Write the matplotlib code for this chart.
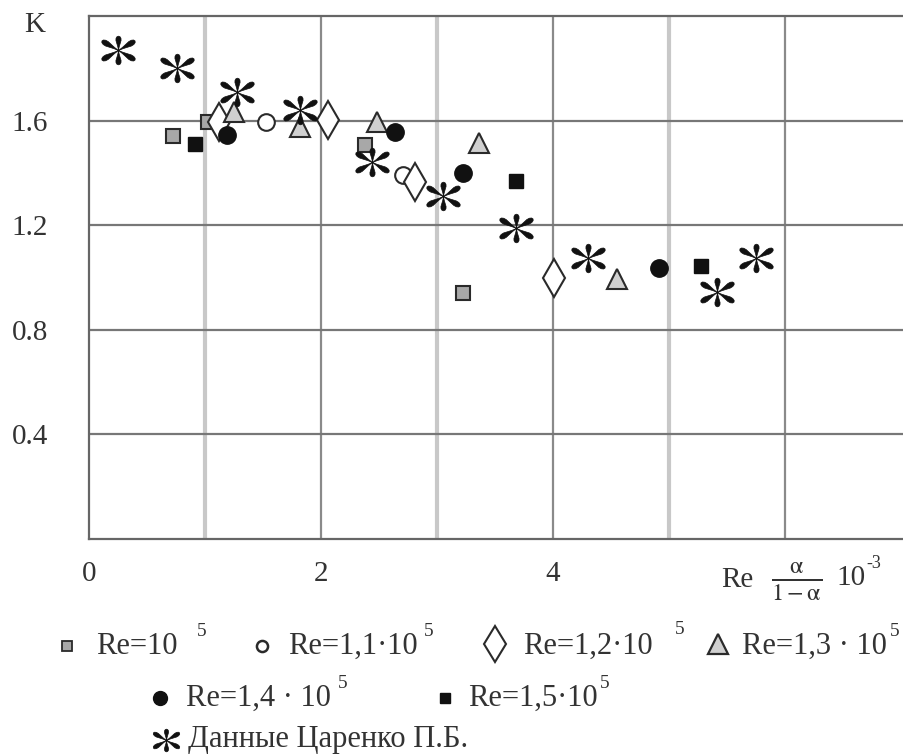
import matplotlib
matplotlib.use("Agg")
import matplotlib.pyplot as plt
import numpy as np
from matplotlib.path import Path

plt.rcParams['font.family'] = ['Liberation Serif', 'DejaVu Serif']
plt.rcParams['mathtext.fontset'] = 'stix'

# ---- data (x = Re*alpha/(1-alpha)*1e-3, y = K) ----
re10_x = [0.72, 1.03, 2.38, 3.22]
re10_y = [1.54, 1.595, 1.505, 0.94]
re11_x = [1.53, 2.71]
re11_y = [1.595, 1.393]
re12_x = [1.12, 2.06, 2.81, 4.01]
re12_y = [1.595, 1.603, 1.366, 1.00]
re13_x = [1.25, 1.82, 2.48, 3.36, 4.55]
re13_y = [1.634, 1.577, 1.596, 1.515, 0.995]
re14_x = [1.19, 2.64, 3.22, 4.91]
re14_y = [1.546, 1.557, 1.40, 1.037]
re15_x = [0.91, 3.68, 5.28]
re15_y = [1.51, 1.37, 1.045]
tsar_x = [0.25, 0.76, 1.28, 1.82, 2.44, 3.05, 3.68, 4.30, 5.41, 5.75]
tsar_y = [1.87, 1.80, 1.71, 1.64, 1.44, 1.31, 1.19, 1.075, 0.945, 1.075]

ytick_vals = [0.4, 0.8, 1.2, 1.6]
ytick_labels = ["0.4", "0.8", "1.2", "1.6"]
xtick_vals = [0, 2, 4]
xtick_labels = ["0", "2", "4"]


def asterisk_marker():
    # six teardrop petals (Times-like asterisk)
    half = [(0.0, 0.0), (0.035, 0.25), (0.09, 0.5), (0.135, 0.7), (0.13, 0.85),
            (0.08, 0.96), (0.0, 1.0)]
    petal = half + [(-x, y) for (x, y) in reversed(half[:-1])]
    petal = np.array(petal)
    verts, codes = [], []
    for ang, length in [(0, 0.75), (180, 0.75), (60, 1.0), (120, 1.0),
                        (240, 1.0), (300, 1.0)]:
        a = np.deg2rad(ang)
        R = np.array([[np.cos(a), -np.sin(a)], [np.sin(a), np.cos(a)]])
        p = (petal * [1, length]) @ R.T
        verts.extend(p.tolist())
        verts.append(p[0].tolist())
        codes.extend([Path.MOVETO] + [Path.LINETO] * (len(p) - 1) + [Path.CLOSEPOLY])
    return Path(verts, codes)


AST = asterisk_marker()

W, H = 904, 756
fig = plt.figure(figsize=(W / 100, H / 100), dpi=100)
L, T, B = 89, 16, 539
ax = fig.add_axes([L / W, 1 - B / H, (W - L) / W, (B - T) / H])
ax.set_xlim(0, (W - L) / 116.0)
ax.set_ylim(0, 2.0)

# grid
for xv in [1, 3, 5]:
    ax.axvline(xv, color='#c8c8c8', lw=3.0, zorder=1)
for xv in [2, 4, 6]:
    ax.axvline(xv, color='#8a8a8a', lw=1.6, zorder=1)
for yv in ytick_vals:
    ax.axhline(yv, color='#777777', lw=1.6, zorder=1)

for s in ['left', 'bottom', 'top']:
    ax.spines[s].set_color('#666666')
    ax.spines[s].set_linewidth(1.6)
ax.spines['right'].set_visible(False)

ax.set_yticks(ytick_vals)
ax.set_yticklabels(ytick_labels, fontsize=21, color='#333333')
ax.set_xticks(xtick_vals)
ax.set_xticklabels(xtick_labels, fontsize=21, color='#333333')
ax.tick_params(length=0)
ax.tick_params(axis='x', pad=16)
ax.tick_params(axis='y', pad=29.5)

ek = '#2a2a2a'
ax.plot(re10_x, re10_y, ls='none', marker='s', ms=9.5, mfc='#a8a8a8', mec=ek, mew=1.5, zorder=3)
ax.plot(re11_x, re11_y, ls='none', marker='o', ms=12, mfc='white', mec=ek, mew=1.5, zorder=3)
ax.plot(re12_x, re12_y, ls='none', marker='d', ms=19, mfc='white', mec=ek, mew=1.5, zorder=3)
ax.plot(re13_x, re13_y, ls='none', marker='^', ms=15, mfc='#d0d0d0', mec=ek, mew=1.5, zorder=3)
ax.plot(re14_x, re14_y, ls='none', marker='o', ms=12.5, mfc='#111111', mec='#111111', mew=1, zorder=3)
ax.plot(re15_x, re15_y, ls='none', marker='s', ms=9.5, mfc='#111111', mec='#111111', mew=1, zorder=3)
ax.plot(tsar_x, tsar_y, ls='none', marker=AST, ms=24, mfc='#111111', mec='#111111', mew=0.5, zorder=4)

# overlay axes in pixel coordinates for labels / legend
ov = fig.add_axes([0, 0, 1, 1])
ov.set_xlim(0, W)
ov.set_ylim(H, 0)
ov.axis('off')
ov.patch.set_alpha(0)

tc = '#333333'
ov.text(35, 25, "K", fontsize=21, ha='center', va='center', color=tc)
ov.text(737, 580, "Re", fontsize=21, ha='center', va='center', color=tc)
ov.text(797, 582, r"$\frac{\mathrm{α}}{1-\mathrm{α}}$", fontsize=25, ha='center', va='center', color=tc)
ov.text(836, 578, r"10", fontsize=21, ha='left', va='center', color=tc)
ov.text(866, 564, r"-3", fontsize=13, ha='left', va='center', color=tc)

fs = 22
ss = 14
r1, r2, r3 = 646, 698, 740
# row 1
ov.plot([67], [r1], ls='none', marker='s', ms=7, mfc='#a8a8a8', mec=ek, mew=1.3, clip_on=False)
ov.text(96, r1, "Re=10", fontsize=fs, ha='left', va='center', color=tc)
ov.text(197, r1 - 15, "5", fontsize=ss, ha='left', va='center', color=tc)
ov.plot([262], [r1], ls='none', marker='o', ms=8, mfc='white', mec=ek, mew=1.8, clip_on=False)
ov.text(288, r1, "Re=1,1·10", fontsize=fs, ha='left', va='center', color=tc)
ov.text(424, r1 - 15, "5", fontsize=ss, ha='left', va='center', color=tc)
ov.plot([495], [r1 - 2], ls='none', marker='d', ms=18, mfc='white', mec=ek, mew=1.5, clip_on=False)
ov.text(523, r1, "Re=1,2·10", fontsize=fs, ha='left', va='center', color=tc)
ov.text(675, r1 - 17, "5", fontsize=ss, ha='left', va='center', color=tc)
ov.plot([718], [r1 - 2], ls='none', marker='^', ms=14, mfc='#d0d0d0', mec=ek, mew=1.6, clip_on=False)
ov.text(742, r1, "Re=1,3 · 10", fontsize=fs, ha='left', va='center', color=tc)
ov.text(890, r1 - 15, "5", fontsize=ss, ha='left', va='center', color=tc)
# row 2
ov.plot([160], [r2], ls='none', marker='o', ms=10, mfc='#111111', mec='#111111', clip_on=False)
ov.text(186, r2, "Re=1,4 · 10", fontsize=fs, ha='left', va='center', color=tc)
ov.text(338, r2 - 15, "5", fontsize=ss, ha='left', va='center', color=tc)
ov.plot([445], [r2], ls='none', marker='s', ms=7, mfc='#111111', mec='#111111', clip_on=False)
ov.text(468, r2, "Re=1,5·10", fontsize=fs, ha='left', va='center', color=tc)
ov.text(600, r2 - 15, "5", fontsize=ss, ha='left', va='center', color=tc)
# row 3
ov.plot([166], [r3], ls='none', marker=AST, ms=19, mfc='#111111', mec='#111111', mew=0.5, clip_on=False)
ov.text(188, r3, "Данные Царенко П.Б.", fontsize=fs, ha='left', va='center', color=tc)

fig.savefig("out.png", dpi=100)
